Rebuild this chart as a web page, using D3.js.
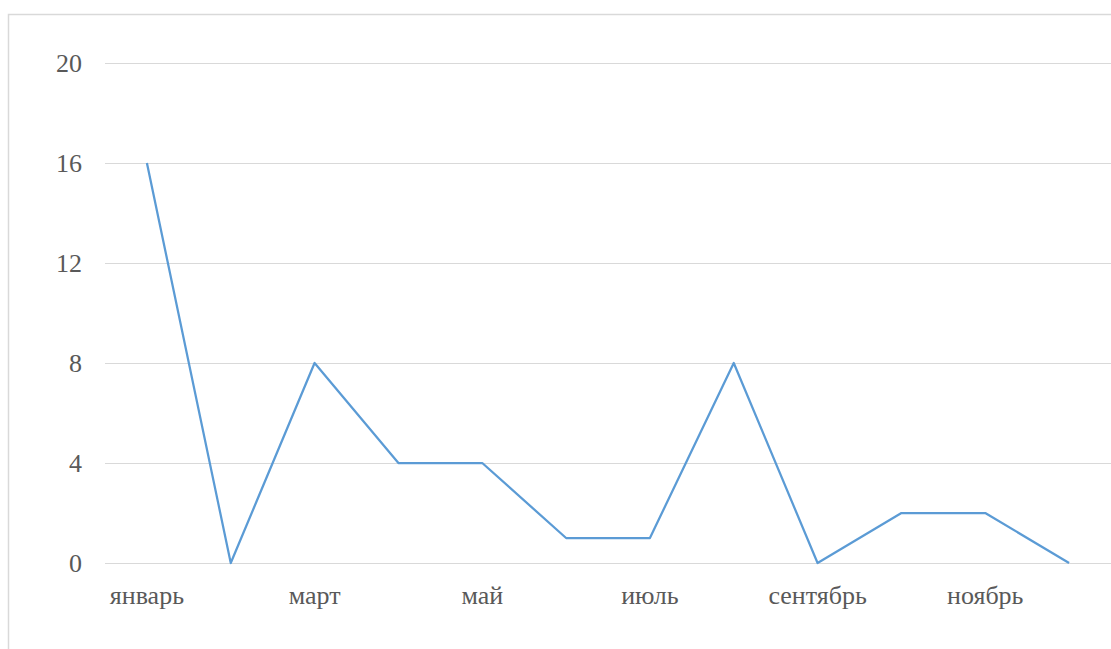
<!DOCTYPE html>
<head>
	<meta charset="utf-8" />
	<style>
		body {
			margin: 0;
			background-color: #fff;
			overflow: hidden;
		}
	</style>
</head>
<body>
	<div id="chart-area"></div>
	<script src="https://cdnjs.cloudflare.com/ajax/libs/d3/7.8.5/d3.min.js"></script>
	<script>
		const months = ['январь', 'февраль', 'март', 'апрель', 'май', 'июнь',
			'июль', 'август', 'сентябрь', 'октябрь', 'ноябрь', 'декабрь'];
		const values = [16, 0, 8, 4, 4, 1, 1, 8, 0, 2, 2, 0];
		const yTicks = [0, 4, 8, 12, 16, 20];

		const width = 1111, height = 649;
		const margins = { top: 63, left: 105, right: 0, bottom: 86 };
		const fontFamily = '"Liberation Serif", "DejaVu Serif", serif';

		const svg = d3.select('#chart-area').append('svg')
			.attr('width', width)
			.attr('height', height);

		// chart frame (cut off at right and bottom like the source)
		svg.append('rect')
			.attr('x', 8.5)
			.attr('y', 14.5)
			.attr('width', width + 10)
			.attr('height', height + 10)
			.attr('fill', 'none')
			.attr('stroke', '#d9d9d9')
			.attr('stroke-width', 1.5);

		const x = d3.scalePoint()
			.domain(months)
			.range([margins.left, width])
			.padding(0.5);

		const y = d3.scaleLinear()
			.domain([0, 20])
			.range([height - margins.bottom, margins.top]);

		// gridlines
		svg.append('g')
			.selectAll('line')
			.data(yTicks)
			.join('line')
			.attr('x1', margins.left)
			.attr('x2', width)
			.attr('y1', d => Math.round(y(d)) + 0.5)
			.attr('y2', d => Math.round(y(d)) + 0.5)
			.attr('stroke', '#d9d9d9')
			.attr('stroke-width', 1);

		// y labels
		svg.append('g')
			.selectAll('text')
			.data(yTicks)
			.join('text')
			.attr('x', 82)
			.attr('y', d => y(d))
			.attr('dy', '0.34em')
			.attr('text-anchor', 'end')
			.attr('font-family', fontFamily)
			.attr('font-size', 26)
			.attr('fill', '#595959')
			.text(d => d);

		// x labels, every other month
		svg.append('g')
			.selectAll('text')
			.data(months.filter((d, i) => i % 2 === 0))
			.join('text')
			.attr('x', d => x(d))
			.attr('y', 604)
			.attr('text-anchor', 'middle')
			.attr('font-family', fontFamily)
			.attr('font-size', 26)
			.attr('fill', '#595959')
			.text(d => d);

		const line = d3.line()
			.x((d, i) => x(months[i]))
			.y(d => y(d));

		svg.append('path')
			.datum(values)
			.attr('d', line)
			.attr('fill', 'none')
			.attr('stroke', '#5b9bd5')
			.attr('stroke-width', 2.25)
			.attr('stroke-linejoin', 'round');
	</script>
</body>
